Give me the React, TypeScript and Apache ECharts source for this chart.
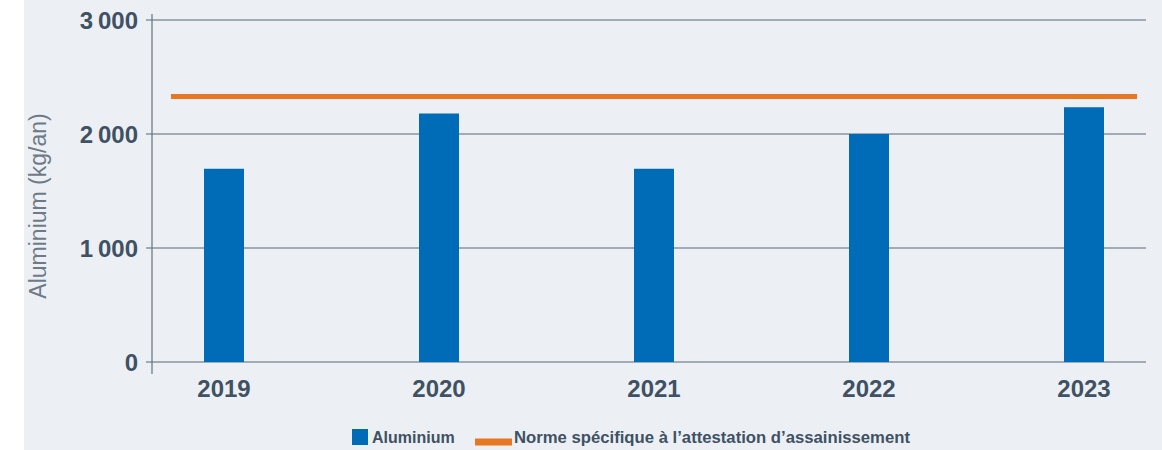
import React, { useEffect, useRef } from "react";
import * as echarts from "echarts";

const years = ["2019", "2020", "2021", "2022", "2023"];
const aluminiumValues = [1695, 2180, 1695, 2000, 2235];
const normeValues = [2330, 2330, 2330, 2330, 2330];
const yTicks = { min: 0, max: 3000, interval: 1000 };
const seriesNames = ["Aluminium", "Norme spécifique à l’attestation d’assainissement"];
const yAxisName = "Aluminium (kg/an)";

const BG = "#ecf0f4";
const TEXT = "#3f5163";
const GRID = "#8893a0";
const AXIS = "#64727f";
const BLUE = "#006bb7";
const ORANGE = "#e87722";
const FONT = "'Liberation Sans', Arial, Helvetica, sans-serif";

function fmt(v: number): string {
  if (v >= 1000) {
    const s = String(v);
    return s.slice(0, s.length - 3) + "\u2009" + s.slice(s.length - 3);
  }
  return String(v);
}

export default function App() {
  const ref = useRef<HTMLDivElement>(null);
  useEffect(() => {
    if (!ref.current) return;
    const chart = echarts.init(ref.current, null, { renderer: "svg" });
    const top = 20;
    const bottom = 88;
    chart.setOption({
      animation: false,
      textStyle: { fontFamily: FONT },
      grid: [
        { left: 152, right: 16, top, bottom },
        { left: 224, right: 78, top, bottom },
        { left: 171, right: 25, top, bottom },
      ],
      xAxis: [
        { gridIndex: 0, type: "category", data: years, show: false },
        {
          gridIndex: 1,
          type: "category",
          data: years,
          boundaryGap: false,
          axisLine: { show: false },
          axisTick: { show: false },
          splitLine: { show: false },
          axisLabel: {
            margin: 14,
            fontSize: 24,
            fontWeight: "bold",
            color: TEXT,
            fontFamily: FONT,
          },
        },
        { gridIndex: 2, type: "category", data: years, boundaryGap: false, show: false },
      ],
      yAxis: [
        {
          gridIndex: 0,
          type: "value",
          min: yTicks.min,
          max: yTicks.max,
          interval: yTicks.interval,
          name: yAxisName,
          nameLocation: "middle",
          nameGap: 103,
          nameTextStyle: {
            fontSize: 23,
            color: "#6e7a86",
            fontFamily: FONT,
            padding: [0, 30, 0, 0],
          },
          axisLine: { show: false },
          axisTick: { show: true, length: 6, lineStyle: { color: GRID, width: 1.5 } },
          splitLine: { show: true, lineStyle: { color: GRID, width: 1.5 } },
          axisLabel: {
            margin: 14,
            fontSize: 24,
            fontWeight: "bold",
            color: TEXT,
            fontFamily: FONT,
            formatter: (v: number) => fmt(v),
          },
        },
        { gridIndex: 1, type: "value", min: yTicks.min, max: yTicks.max, interval: yTicks.interval, show: false },
        { gridIndex: 2, type: "value", min: yTicks.min, max: yTicks.max, interval: yTicks.interval, show: false },
      ],
      legend: [
        {
          data: [{ name: seriesNames[0], icon: "rect" }],
          left: 352,
          top: 429,
          itemWidth: 16,
          itemHeight: 16,
          itemGap: 0,
          padding: 0,
          textStyle: { fontSize: 16, fontWeight: "bold", color: TEXT, fontFamily: FONT, padding: [2, 0, 0, -1] },
        },
        {
          data: [{ name: seriesNames[1], icon: "path://M0,0L37,0L37,0.01Z M0,9L37,9L37,16L0,16Z" }],
          left: 475,
          top: 429,
          itemWidth: 37,
          itemHeight: 16,
          itemGap: 0,
          padding: 0,
          itemStyle: { borderWidth: 0 },
          textStyle: { fontSize: 16.7, fontWeight: "bold", color: TEXT, fontFamily: FONT, padding: [2, 0, 0, -3] },
        },
      ],
      graphic: [
        {
          type: "line",
          shape: { x1: 152, y1: 14, x2: 152, y2: 374 },
          style: { stroke: AXIS, lineWidth: 1.2 },
          z: 10,
        },
      ],
      series: [
        {
          name: seriesNames[0],
          type: "bar",
          xAxisIndex: 1,
          yAxisIndex: 1,
          data: aluminiumValues,
          barWidth: 40,
          itemStyle: { color: BLUE },
        },
        {
          name: seriesNames[1],
          type: "line",
          xAxisIndex: 2,
          yAxisIndex: 2,
          data: normeValues,
          symbol: "none",
          lineStyle: { color: ORANGE, width: 5 },
          itemStyle: { color: ORANGE },
          z: 3,
        },
      ],
    });
    return () => chart.dispose();
  }, []);
  return (
    <div
      style={{
        position: "absolute",
        left: 0,
        top: 0,
        width: 1162,
        height: 450,
        background: `linear-gradient(to right, #ffffff 24px, ${BG} 24px)`,
      }}
    >
      <div ref={ref} style={{ width: 1162, height: 450 }} />
    </div>
  );
}
